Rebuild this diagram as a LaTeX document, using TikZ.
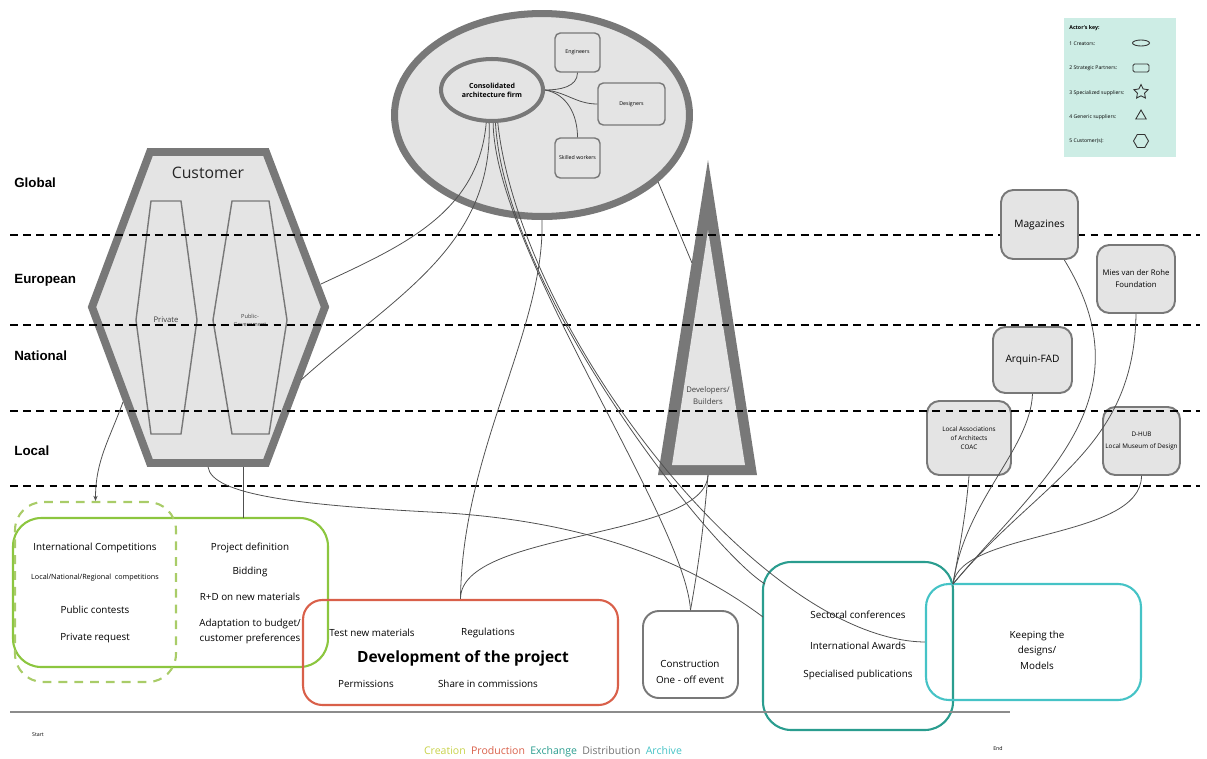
\documentclass[tikz,border=0pt]{standalone}
\usepackage{fontspec}
\setmainfont{Open Sans}
\newfontfamily\levelfont{Liberation Sans}
\usepackage{tikz}
\usetikzlibrary{shapes.geometric, arrows.meta}

\definecolor{actorgray}{HTML}{787878}
\definecolor{actorfill}{HTML}{E4E4E4}
\definecolor{linkgray}{HTML}{505050}
\definecolor{creationgreen}{HTML}{8CC63F}
\definecolor{creationdash}{HTML}{A9CC68}
\definecolor{creationyellow}{HTML}{C8D24A}
\definecolor{productionred}{HTML}{D9604A}
\definecolor{exchangeteal}{HTML}{2A9D8F}
\definecolor{archiveteal}{HTML}{45C3C6}
\definecolor{keyfill}{HTML}{CDEDE5}

\begin{document}
\begin{tikzpicture}[x=0.02cm, y=-0.02cm,
    level/.style={font=\levelfont\bfseries\fontsize{7.6}{9}\selectfont, anchor=west, inner sep=0pt},
    levelline/.style={black, line width=1pt, dash pattern=on 4.5pt off 3pt},
    segment/.style={draw=actorgray, line width=0.8pt},
    actorbox/.style={draw=actorgray, fill=actorfill, line width=1.1pt, rounded corners=7pt, inner sep=0pt, align=center},
    partnerbox/.style={draw=actorgray, fill=actorfill, line width=0.8pt, rounded corners=3pt, inner sep=0pt, font=\fontsize{3}{3.6}\selectfont},
    stagebox/.style={line width=1.2pt, inner sep=0pt},
    boxtext/.style={font=\fontsize{5.6}{8.6}\selectfont, align=center, inner sep=0pt},
    smalltext/.style={font=\fontsize{4.4}{6.8}\selectfont, align=center, inner sep=0pt},
    tinytext/.style={font=\fontsize{3.6}{5.1}\selectfont, align=center, inner sep=0pt},
    keytext/.style={font=\fontsize{2.9}{3.5}\selectfont, anchor=west, inner sep=0pt},
    keysymbol/.style={draw=black!80, line width=0.5pt, inner sep=0pt},
    link/.style={draw=linkgray, line width=0.45pt},
]
    \useasboundingbox (0,0) rectangle (1207,758);

    % ==========================================
    % 1. LEVELS
    % ==========================================
    \node[level] (global)   at (14,183) {Global};
    \node[level] (european) at (14,280) {European};
    \node[level] (national) at (14,356) {National};
    \node[level] (local)    at (14,451) {Local};

    % ==========================================
    % 2. CUSTOMER (hexagon)
    % ==========================================
    \draw[draw=actorgray, fill=actorfill, line width=4.5pt, line join=miter]
        (150,152) -- (266,152) -- (325,307) -- (266,463) -- (150,463) -- (92,307) -- cycle;
    \draw[segment] (151,201) -- (181,201) -- (197,320) -- (181,434) -- (151,434) -- (136,320) -- cycle;
    \draw[segment] (232,201) -- (269,201) -- (287,320) -- (269,434) -- (232,434) -- (213,320) -- cycle;
    \node[font=\fontsize{9}{11}\selectfont, text=black!85] (customer) at (208,173) {Customer};
    \node[smalltext, text=black!75] (private) at (166,320) {Private};
    \node[tinytext, font=\fontsize{3.2}{4.6}\selectfont, text=black!75] (public) at (250,320) {Public-\\Government};

    % points on the border for the links
    \coordinate (custR1)   at (321,284);
    \coordinate (custR2)   at (301,380);
    \coordinate (custBot)  at (243,467);
    \coordinate (custLow)  at (208,467);
    \coordinate (custLeft) at (123,402);

    % ==========================================
    % 3. CREATORS (ellipse)
    % ==========================================
    \node[ellipse, draw=actorgray, fill=actorfill, line width=4pt,
          minimum width=5.9cm, minimum height=4.06cm] (creators) at (542,115) {};
    \node[ellipse, draw=actorgray, fill=actorfill, line width=2.3pt,
          minimum width=2.04cm, minimum height=1.24cm, inner sep=0pt, align=center,
          font=\bfseries\fontsize{4}{5.1}\selectfont] (consolidated) at (492,90) {Consolidated\\architecture firm};
    \node[partnerbox, minimum width=0.9cm,  minimum height=0.78cm] (engineers) at (577.5,52.5) {Engineers};
    \node[partnerbox, minimum width=1.34cm, minimum height=0.84cm] (designers) at (631.5,104)  {Designers};
    \node[partnerbox, minimum width=0.9cm,  minimum height=0.8cm]  (skilled)   at (577.5,158)  {Skilled workers};

    \draw[link] (consolidated.east) to[out=0, in=-90] (engineers.south);
    \draw[link] (consolidated.east) to[out=-5, in=180] (designers.west);
    \draw[link] (consolidated.east) to[out=-10, in=90] (skilled.north);

    % ==========================================
    % 4. DEVELOPERS (triangle)
    % ==========================================
    \fill[actorgray] (708,160) -- (757,475) -- (658,475) -- cycle;
    \fill[actorfill] (708,230) -- (745,465) -- (672,465) -- cycle;
    \node[smalltext, text=black!75] (developers) at (708,396) {Developers/\\Builders};
    \coordinate (devLeft) at (692,263);
    \coordinate (devBase) at (708,475);

    % ==========================================
    % 5. DISTRIBUTION ACTORS (right)
    % ==========================================
    \node[actorbox, minimum width=1.56cm, minimum height=1.36cm, font=\fontsize{4.4}{6.8}\selectfont]
        (mies) at (1136,279) {Mies van der Rohe\\Foundation};
    \node[actorbox, minimum width=1.58cm, minimum height=1.32cm, font=\fontsize{5.8}{7}\selectfont]
        (arquin) at (1032.5,360) {Arquin-FAD};
    \node[actorbox, minimum width=1.68cm, minimum height=1.48cm, font=\fontsize{3.6}{5.1}\selectfont]
        (coac) at (969,438) {Local Associations\\of Architects\\COAC};
    \node[actorbox, minimum width=1.54cm, minimum height=1.36cm, font=\fontsize{3.6}{6.3}\selectfont]
        (dhub) at (1141.5,441) {D-HUB\\Local Museum of Design};

    % dashed level lines
    \foreach \y in {235,325,411,486}
        \draw[levelline] (10,\y) -- (1200,\y);

    % Magazines sits on top of the first line
    \node[actorbox, minimum width=1.54cm, minimum height=1.38cm, font=\fontsize{5.8}{7}\selectfont]
        (magazines) at (1039.5,224.5) {Magazines};

    % ==========================================
    % 6. KEY
    % ==========================================
    \node[fill=keyfill, minimum width=2.24cm, minimum height=2.78cm, inner sep=0pt] (key) at (1120,87.5) {};
    \node[keytext, font=\bfseries\fontsize{3}{3.6}\selectfont] (keytitle) at (1069,28) {Actor's key:};
    \node[keytext] (key1) at (1069,44)  {1 Creators:};
    \node[keytext] (key2) at (1069,68)  {2 Strategic Partners:};
    \node[keytext] (key3) at (1069,93)  {3 Specialized suppliers:};
    \node[keytext] (key4) at (1069,117) {4 Generic suppliers:};
    \node[keytext] (key5) at (1069,141) {5 Customer(s):};
    \node[keysymbol, ellipse, minimum width=0.34cm, minimum height=0.12cm] (sym1) at (1141,43) {};
    \node[keysymbol, rectangle, rounded corners=0.8pt, minimum width=0.32cm, minimum height=0.16cm] (sym2) at (1141,68) {};
    \node[keysymbol, star, star points=5, star point ratio=2, minimum size=0.3cm] (sym3) at (1141,92) {};
    \node[keysymbol, regular polygon, regular polygon sides=3, minimum size=0.24cm] (sym4) at (1141,116) {};
    \node[keysymbol, regular polygon, regular polygon sides=6, minimum size=0.3cm] (sym5) at (1141,141) {};

    % ==========================================
    % 7. STAGES (bottom)
    % ==========================================
    \node[stagebox, draw=creationgreen, rounded corners=16pt, minimum width=6.3cm, minimum height=2.98cm]
        (creation) at (170.5,592.5) {};
    \node[stagebox, draw=creationdash, dash pattern=on 5pt off 4pt, rounded corners=16pt,
          minimum width=3.22cm, minimum height=3.6cm] (competitions) at (95.5,592) {};
    \node[stagebox, draw=productionred, rounded corners=11pt, minimum width=6.3cm, minimum height=2.1cm]
        (production) at (460.5,652.5) {};
    \node[stagebox, draw=actorgray, line width=1.1pt, rounded corners=9pt, minimum width=1.9cm, minimum height=1.74cm]
        (construction) at (690.5,654.5) {};
    \node[stagebox, draw=exchangeteal, rounded corners=16pt, minimum width=3.8cm, minimum height=3.36cm]
        (exchange) at (858,646) {};
    \node[stagebox, draw=archiveteal, rounded corners=13pt, minimum width=4.3cm, minimum height=2.32cm]
        (archive) at (1033.5,642) {};
    \coordinate (creationTop)  at (243,518);
    \coordinate (exchangeIn)   at (765,584);
    \coordinate (exchangeLeft) at (763,617);
    \coordinate (archiveTop)   at (953,584);

    % creation texts
    \node[boxtext] (intl)    at (95,548) {International Competitions};
    \node[boxtext, font=\fontsize{4.1}{5}\selectfont] (regional) at (95,578) {Local/National/Regional\ \ competitions};
    \node[boxtext] (contests) at (95,610) {Public contests};
    \node[boxtext] (request)  at (95,638) {Private request};
    \node[boxtext] (definition) at (250,548) {Project definition};
    \node[boxtext] (bidding)    at (250,572) {Bidding};
    \node[boxtext] (rd)         at (250,597) {R+D on new materials};
    \node[boxtext] (budget)     at (250,631) {Adaptation to budget/\\customer preferences};

    % production texts
    \node[boxtext] (test)        at (372,633) {Test new materials};
    \node[boxtext] (regulations) at (488,633) {Regulations};
    \node[boxtext, font=\bfseries\fontsize{8.8}{10}\selectfont] (development) at (463,658) {Development of the project};
    \node[boxtext] (permissions) at (366,684) {Permissions};
    \node[boxtext] (share)       at (488,684) {Share in commissions};

    % other stages
    \node[boxtext, font=\fontsize{5.6}{9.5}\selectfont] (event) at (690,672) {Construction\\One - off event};
    \node[boxtext] (conferences) at (858,615) {Sectoral conferences};
    \node[boxtext] (awards)      at (858,646) {International Awards};
    \node[boxtext] (publications) at (858,675) {Specialised publications};
    \node[boxtext, font=\fontsize{5.6}{8.8}\selectfont] (keeping) at (1037,650) {Keeping the\\designs/\\Models};

    % ==========================================
    % 8. LINKS
    % ==========================================
    \draw[link] (consolidated.-100) to[out=-95, in=25] (custR1);
    \draw[link] (consolidated.-95) to[out=-88, in=42] (custR2);
    \draw[link] (consolidated.-88) .. controls (495,250) and (685,519) .. (construction.north);
    \draw[link] (consolidated.-84) .. controls (505,290) and (711,551) .. (exchangeIn);
    \draw[link] (consolidated.-80) .. controls (520,330) and (760,640) .. (archive.west);
    \draw[link] (creators.south) .. controls (545,330) and (462,450) .. (production.north);
    \draw[link] (creators.-30) -- (devLeft);
    \draw[link] (devBase) to[out=-95, in=80] (construction.north);
    \draw[link] (devBase) .. controls (705,540) and (460,530) .. (production.north);
    \draw[link] (custBot) -- (creationTop);
    \draw[link] (custLow) .. controls (212,495) and (300,505) .. (430,512)
                          .. controls (600,520) and (700,570) .. (exchangeLeft);
    \draw[link, -{Stealth[length=3pt, width=2.5pt]}] (custLeft) to[out=-110, in=90] (competitions.north);

    \draw[link] (magazines.-55) .. controls (1150,400) and (1040,480) .. (archiveTop);
    \draw[link] (mies.south) .. controls (1134,450) and (1040,480) .. (archiveTop);
    \draw[link] (arquin.south) .. controls (1030,450) and (965,500) .. (archiveTop);
    \draw[link] (coac.south) to[out=-95, in=80] (archiveTop);
    \draw[link] (dhub.south) .. controls (1141,540) and (960,530) .. (archiveTop);

    % ==========================================
    % 9. TIMELINE AND STAGE NAMES
    % ==========================================
    \coordinate (timeStart) at (10,712);
    \coordinate (timeEnd)   at (1010,712);
    \draw[draw=black!45, line width=0.9pt] (timeStart) -- (timeEnd);
    \node[font=\fontsize{3}{4}\selectfont, inner sep=0pt] (start) at (38,735) {Start};
    \node[font=\fontsize{3}{4}\selectfont, inner sep=0pt] (end)   at (998,749) {End};
    \node[font=\fontsize{6}{7}\selectfont, inner sep=0pt] (stages) at (553,752)
        {\textcolor{creationyellow}{Creation}\enspace
         \textcolor{productionred}{Production}\enspace
         \textcolor{exchangeteal}{Exchange}\enspace
         \textcolor{black!55}{Distribution}\enspace
         \textcolor{archiveteal}{Archive}};

\end{tikzpicture}
\end{document}
